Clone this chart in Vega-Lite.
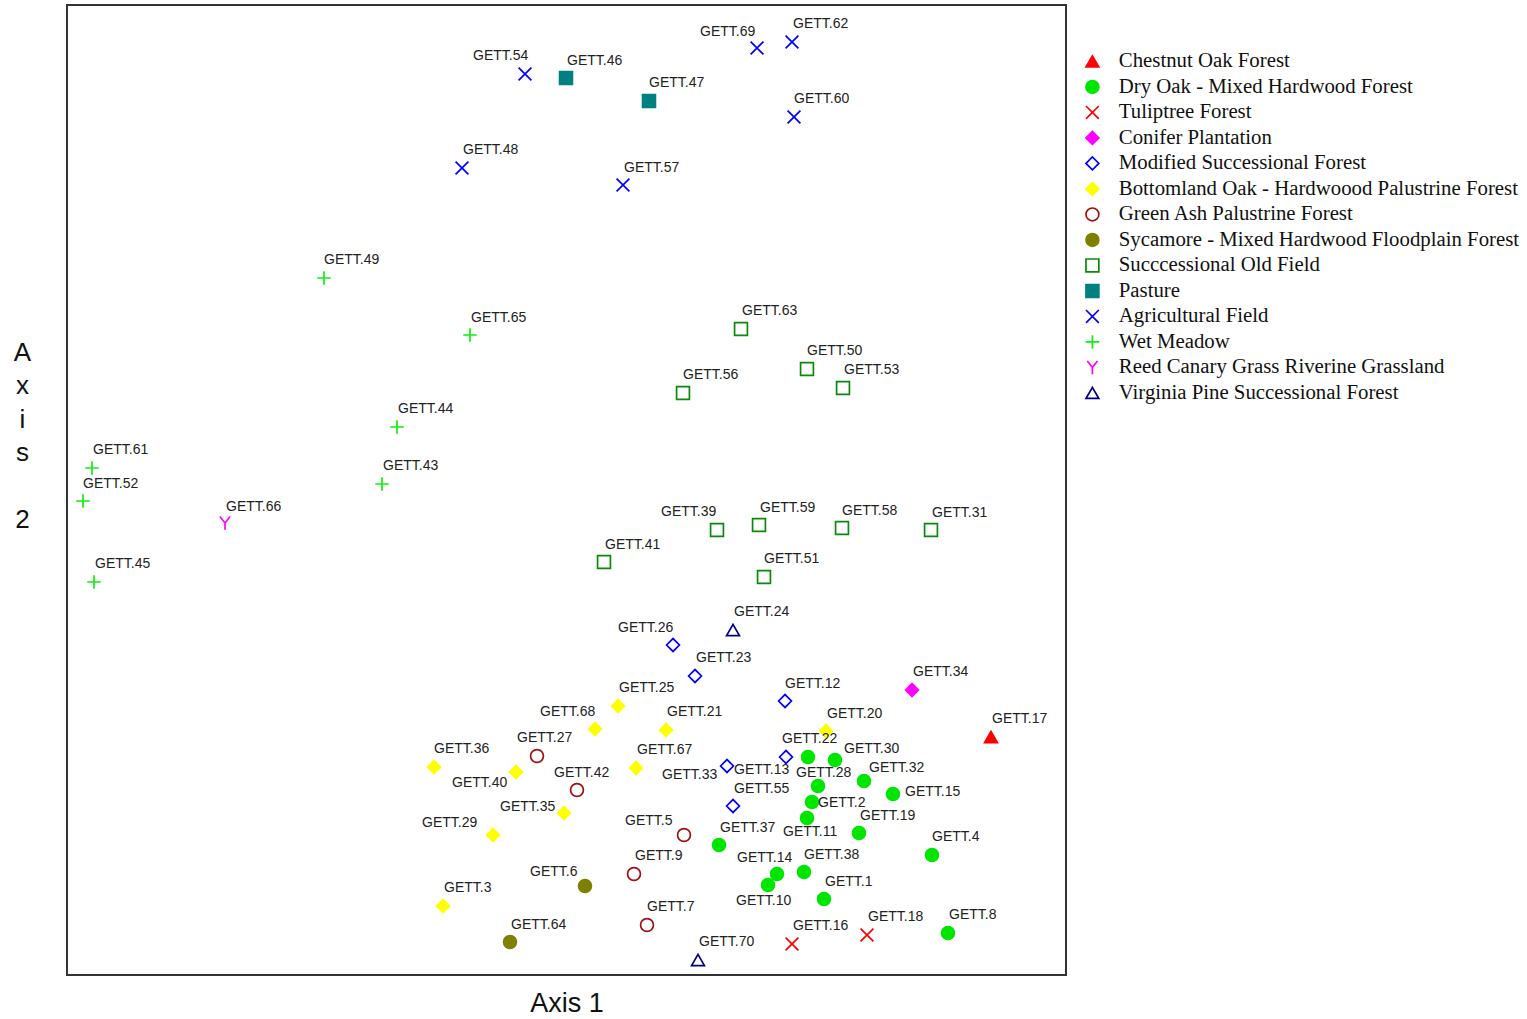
{
  "$schema": "https://vega.github.io/schema/vega-lite/v6.json",
  "width": 999,
  "height": 970,
  "autosize": {"type": "none"},
  "padding": {"left": 67, "top": 5, "right": 461, "bottom": 44},
  "background": "white",
  "config": {
    "view": {"stroke": "#333333", "strokeWidth": 2},
    "axis": {"domain": false, "ticks": false, "labels": false, "grid": false, "titleFont": "Liberation Sans", "titleFontWeight": "normal", "titleColor": "#111111", "titleFontSize": 26}
  },
  "data": {
    "values": [
      {"id": "GETT.54", "type": "Agricultural Field", "x": 4.58, "y": 9.01, "lx": 4.06, "ly": 9.19},
      {"id": "GETT.69", "type": "Agricultural Field", "x": 6.90, "y": 9.27, "lx": 6.33, "ly": 9.43},
      {"id": "GETT.62", "type": "Agricultural Field", "x": 7.25, "y": 9.33, "lx": 7.26, "ly": 9.51},
      {"id": "GETT.60", "type": "Agricultural Field", "x": 7.27, "y": 8.58, "lx": 7.27, "ly": 8.76},
      {"id": "GETT.48", "type": "Agricultural Field", "x": 3.95, "y": 8.07, "lx": 3.96, "ly": 8.25},
      {"id": "GETT.57", "type": "Agricultural Field", "x": 5.56, "y": 7.90, "lx": 5.57, "ly": 8.07},
      {"id": "GETT.46", "type": "Pasture", "x": 4.99, "y": 8.97, "lx": 5.00, "ly": 9.14},
      {"id": "GETT.47", "type": "Pasture", "x": 5.82, "y": 8.74, "lx": 5.82, "ly": 8.92},
      {"id": "GETT.49", "type": "Wet Meadow", "x": 2.57, "y": 6.97, "lx": 2.57, "ly": 7.15},
      {"id": "GETT.65", "type": "Wet Meadow", "x": 4.03, "y": 6.40, "lx": 4.04, "ly": 6.57},
      {"id": "GETT.44", "type": "Wet Meadow", "x": 3.30, "y": 5.48, "lx": 3.31, "ly": 5.66},
      {"id": "GETT.43", "type": "Wet Meadow", "x": 3.15, "y": 4.91, "lx": 3.16, "ly": 5.09},
      {"id": "GETT.61", "type": "Wet Meadow", "x": 0.25, "y": 5.07, "lx": 0.26, "ly": 5.25},
      {"id": "GETT.52", "type": "Wet Meadow", "x": 0.16, "y": 4.74, "lx": 0.16, "ly": 4.91},
      {"id": "GETT.45", "type": "Wet Meadow", "x": 0.27, "y": 3.93, "lx": 0.28, "ly": 4.11},
      {"id": "GETT.66", "type": "Reed Canary Grass Riverine Grassland", "x": 1.58, "y": 4.52, "lx": 1.59, "ly": 4.68},
      {"id": "GETT.63", "type": "Succcessional Old Field", "x": 6.74, "y": 6.46, "lx": 6.75, "ly": 6.64},
      {"id": "GETT.50", "type": "Succcessional Old Field", "x": 7.40, "y": 6.06, "lx": 7.40, "ly": 6.24},
      {"id": "GETT.53", "type": "Succcessional Old Field", "x": 7.76, "y": 5.87, "lx": 7.77, "ly": 6.05},
      {"id": "GETT.56", "type": "Succcessional Old Field", "x": 6.16, "y": 5.82, "lx": 6.16, "ly": 6.00},
      {"id": "GETT.39", "type": "Succcessional Old Field", "x": 6.50, "y": 4.45, "lx": 5.94, "ly": 4.63},
      {"id": "GETT.59", "type": "Succcessional Old Field", "x": 6.92, "y": 4.50, "lx": 6.93, "ly": 4.67},
      {"id": "GETT.58", "type": "Succcessional Old Field", "x": 7.75, "y": 4.47, "lx": 7.75, "ly": 4.64},
      {"id": "GETT.31", "type": "Succcessional Old Field", "x": 8.64, "y": 4.45, "lx": 8.65, "ly": 4.62},
      {"id": "GETT.41", "type": "Succcessional Old Field", "x": 5.37, "y": 4.13, "lx": 5.38, "ly": 4.30},
      {"id": "GETT.51", "type": "Succcessional Old Field", "x": 6.97, "y": 3.98, "lx": 6.97, "ly": 4.16},
      {"id": "GETT.24", "type": "Virginia Pine Successional Forest", "x": 6.66, "y": 3.45, "lx": 6.67, "ly": 3.63},
      {"id": "GETT.70", "type": "Virginia Pine Successional Forest", "x": 6.31, "y": 0.15, "lx": 6.32, "ly": 0.33},
      {"id": "GETT.26", "type": "Modified Successional Forest", "x": 6.06, "y": 3.30, "lx": 5.51, "ly": 3.47},
      {"id": "GETT.23", "type": "Modified Successional Forest", "x": 6.28, "y": 2.99, "lx": 6.29, "ly": 3.17},
      {"id": "GETT.12", "type": "Modified Successional Forest", "x": 7.18, "y": 2.74, "lx": 7.18, "ly": 2.91},
      {"id": "GETT.13", "type": "Modified Successional Forest", "x": 7.19, "y": 2.18, "lx": 6.67, "ly": 2.05},
      {"id": "GETT.33", "type": "Modified Successional Forest", "x": 6.60, "y": 2.09, "lx": 5.95, "ly": 2.00},
      {"id": "GETT.55", "type": "Modified Successional Forest", "x": 6.66, "y": 1.69, "lx": 6.67, "ly": 1.86},
      {"id": "GETT.34", "type": "Conifer Plantation", "x": 8.45, "y": 2.85, "lx": 8.46, "ly": 3.03},
      {"id": "GETT.17", "type": "Chestnut Oak Forest", "x": 9.24, "y": 2.38, "lx": 9.25, "ly": 2.56},
      {"id": "GETT.25", "type": "Bottomland Oak - Hardwoood Palustrine Forest", "x": 5.51, "y": 2.69, "lx": 5.52, "ly": 2.87},
      {"id": "GETT.68", "type": "Bottomland Oak - Hardwoood Palustrine Forest", "x": 5.28, "y": 2.46, "lx": 4.73, "ly": 2.63},
      {"id": "GETT.21", "type": "Bottomland Oak - Hardwoood Palustrine Forest", "x": 5.99, "y": 2.45, "lx": 6.00, "ly": 2.63},
      {"id": "GETT.20", "type": "Bottomland Oak - Hardwoood Palustrine Forest", "x": 7.59, "y": 2.44, "lx": 7.60, "ly": 2.61},
      {"id": "GETT.36", "type": "Bottomland Oak - Hardwoood Palustrine Forest", "x": 3.67, "y": 2.08, "lx": 3.67, "ly": 2.26},
      {"id": "GETT.40", "type": "Bottomland Oak - Hardwoood Palustrine Forest", "x": 4.49, "y": 2.03, "lx": 3.85, "ly": 1.92},
      {"id": "GETT.67", "type": "Bottomland Oak - Hardwoood Palustrine Forest", "x": 5.69, "y": 2.07, "lx": 5.70, "ly": 2.25},
      {"id": "GETT.35", "type": "Bottomland Oak - Hardwoood Palustrine Forest", "x": 4.97, "y": 1.62, "lx": 4.33, "ly": 1.68},
      {"id": "GETT.29", "type": "Bottomland Oak - Hardwoood Palustrine Forest", "x": 4.26, "y": 1.40, "lx": 3.55, "ly": 1.52},
      {"id": "GETT.3", "type": "Bottomland Oak - Hardwoood Palustrine Forest", "x": 3.76, "y": 0.69, "lx": 3.77, "ly": 0.87},
      {"id": "GETT.27", "type": "Green Ash Palustrine Forest", "x": 4.70, "y": 2.19, "lx": 4.50, "ly": 2.37},
      {"id": "GETT.42", "type": "Green Ash Palustrine Forest", "x": 5.10, "y": 1.85, "lx": 4.87, "ly": 2.02},
      {"id": "GETT.5", "type": "Green Ash Palustrine Forest", "x": 6.17, "y": 1.40, "lx": 5.58, "ly": 1.54},
      {"id": "GETT.9", "type": "Green Ash Palustrine Forest", "x": 5.67, "y": 1.01, "lx": 5.68, "ly": 1.19},
      {"id": "GETT.7", "type": "Green Ash Palustrine Forest", "x": 5.80, "y": 0.50, "lx": 5.80, "ly": 0.68},
      {"id": "GETT.6", "type": "Sycamore - Mixed Hardwood Floodplain Forest", "x": 5.18, "y": 0.89, "lx": 4.63, "ly": 1.03},
      {"id": "GETT.64", "type": "Sycamore - Mixed Hardwood Floodplain Forest", "x": 4.43, "y": 0.33, "lx": 4.44, "ly": 0.50},
      {"id": "GETT.16", "type": "Tuliptree Forest", "x": 7.25, "y": 0.31, "lx": 7.26, "ly": 0.49},
      {"id": "GETT.18", "type": "Tuliptree Forest", "x": 8.00, "y": 0.40, "lx": 8.01, "ly": 0.58},
      {"id": "GETT.22", "type": "Dry Oak - Mixed Hardwood Forest", "x": 7.41, "y": 2.18, "lx": 7.15, "ly": 2.36},
      {"id": "GETT.30", "type": "Dry Oak - Mixed Hardwood Forest", "x": 7.68, "y": 2.15, "lx": 7.77, "ly": 2.26},
      {"id": "GETT.28", "type": "Dry Oak - Mixed Hardwood Forest", "x": 7.51, "y": 1.89, "lx": 7.29, "ly": 2.02},
      {"id": "GETT.32", "type": "Dry Oak - Mixed Hardwood Forest", "x": 7.97, "y": 1.94, "lx": 8.02, "ly": 2.07},
      {"id": "GETT.15", "type": "Dry Oak - Mixed Hardwood Forest", "x": 8.26, "y": 1.81, "lx": 8.38, "ly": 1.83},
      {"id": "GETT.2", "type": "Dry Oak - Mixed Hardwood Forest", "x": 7.45, "y": 1.73, "lx": 7.51, "ly": 1.72},
      {"id": "GETT.11", "type": "Dry Oak - Mixed Hardwood Forest", "x": 7.40, "y": 1.57, "lx": 7.16, "ly": 1.43},
      {"id": "GETT.19", "type": "Dry Oak - Mixed Hardwood Forest", "x": 7.92, "y": 1.42, "lx": 7.93, "ly": 1.59},
      {"id": "GETT.37", "type": "Dry Oak - Mixed Hardwood Forest", "x": 6.52, "y": 1.30, "lx": 6.53, "ly": 1.47},
      {"id": "GETT.4", "type": "Dry Oak - Mixed Hardwood Forest", "x": 8.65, "y": 1.20, "lx": 8.65, "ly": 1.38},
      {"id": "GETT.38", "type": "Dry Oak - Mixed Hardwood Forest", "x": 7.37, "y": 1.03, "lx": 7.37, "ly": 1.20},
      {"id": "GETT.14", "type": "Dry Oak - Mixed Hardwood Forest", "x": 7.10, "y": 1.01, "lx": 6.70, "ly": 1.17},
      {"id": "GETT.10", "type": "Dry Oak - Mixed Hardwood Forest", "x": 7.01, "y": 0.90, "lx": 6.69, "ly": 0.74},
      {"id": "GETT.1", "type": "Dry Oak - Mixed Hardwood Forest", "x": 7.57, "y": 0.76, "lx": 7.58, "ly": 0.93},
      {"id": "GETT.8", "type": "Dry Oak - Mixed Hardwood Forest", "x": 8.81, "y": 0.42, "lx": 8.82, "ly": 0.60}
    ]
  },
  "layer": [
    {
      "mark": {"type": "point", "size": 165, "strokeWidth": 1.7, "opacity": 1},
      "encoding": {
        "x": {"field": "x", "type": "quantitative", "scale": {"domain": [0, 9.99], "nice": false, "zero": false},
              "axis": {"title": "Axis 1", "titlePadding": 15, "titleFontSize": 27}},
        "y": {"field": "y", "type": "quantitative", "scale": {"domain": [0, 9.70], "nice": false, "zero": false},
              "axis": {"title": ["A", "x", "i", "s", "\u200b", "2"], "titleAngle": 0, "titleAlign": "center", "titleBaseline": "middle", "titleX": -45, "titleY": 347, "titleLineHeight": 33.5}},
        "shape": {"field": "type", "type": "nominal", "title": null,
          "scale": {
            "domain": ["Chestnut Oak Forest", "Dry Oak - Mixed Hardwood Forest", "Tuliptree Forest", "Conifer Plantation", "Modified Successional Forest", "Bottomland Oak - Hardwoood Palustrine Forest", "Green Ash Palustrine Forest", "Sycamore - Mixed Hardwood Floodplain Forest", "Succcessional Old Field", "Pasture", "Agricultural Field", "Wet Meadow", "Reed Canary Grass Riverine Grassland", "Virginia Pine Successional Forest"],
            "range": ["triangle-up", "circle", "M-1,-1L1,1M-1,1L1,-1", "diamond", "diamond", "diamond", "circle", "circle", "square", "square", "M-1,-1L1,1M-1,1L1,-1", "M-1.05,0L1.05,0M0,-1.05L0,1.05", "M-0.8,-1L0,0L0.8,-1M0,0L0,1.05", "triangle-up"]
          }},
        "fill": {"field": "type", "type": "nominal", "title": null,
          "scale": {
            "domain": ["Chestnut Oak Forest", "Dry Oak - Mixed Hardwood Forest", "Tuliptree Forest", "Conifer Plantation", "Modified Successional Forest", "Bottomland Oak - Hardwoood Palustrine Forest", "Green Ash Palustrine Forest", "Sycamore - Mixed Hardwood Floodplain Forest", "Succcessional Old Field", "Pasture", "Agricultural Field", "Wet Meadow", "Reed Canary Grass Riverine Grassland", "Virginia Pine Successional Forest"],
            "range": ["#ff0000", "#00e600", "transparent", "#ff00ff", "transparent", "#ffff00", "transparent", "#808000", "transparent", "#008080", "transparent", "transparent", "transparent", "transparent"]
          }},
        "stroke": {"field": "type", "type": "nominal", "title": null,
          "scale": {
            "domain": ["Chestnut Oak Forest", "Dry Oak - Mixed Hardwood Forest", "Tuliptree Forest", "Conifer Plantation", "Modified Successional Forest", "Bottomland Oak - Hardwoood Palustrine Forest", "Green Ash Palustrine Forest", "Sycamore - Mixed Hardwood Floodplain Forest", "Succcessional Old Field", "Pasture", "Agricultural Field", "Wet Meadow", "Reed Canary Grass Riverine Grassland", "Virginia Pine Successional Forest"],
            "range": ["#ff0000", "#00e600", "#ff0000", "#ff00ff", "#0000ff", "#ffff00", "#a01010", "#808000", "#0a8a0a", "#008080", "#0000ff", "#11ee11", "#ff00ff", "#000080"]
          },
          "legend": {"orient": "none", "legendX": 1015, "legendY": 46, "padding": 0, "symbolSize": 165, "symbolStrokeWidth": 1.7, "labelFont": "Liberation Serif", "labelFontSize": 20.8, "labelColor": "#111111", "labelLimit": 0, "labelOffset": 16, "rowPadding": 3.5, "symbolOpacity": 1}
        }
      }
    },
    {
      "mark": {"type": "text", "align": "left", "baseline": "middle", "font": "Liberation Sans", "fontSize": 14, "color": "#222222"},
      "encoding": {
        "x": {"field": "lx", "type": "quantitative", "axis": {"title": "Axis 1", "titlePadding": 15, "titleFontSize": 27}},
        "y": {"field": "ly", "type": "quantitative",
              "axis": {"title": ["A", "x", "i", "s", "\u200b", "2"], "titleAngle": 0, "titleAlign": "center", "titleBaseline": "middle", "titleX": -45, "titleY": 347, "titleLineHeight": 33.5}},
        "text": {"field": "id", "type": "nominal"}
      }
    }
  ]
}
